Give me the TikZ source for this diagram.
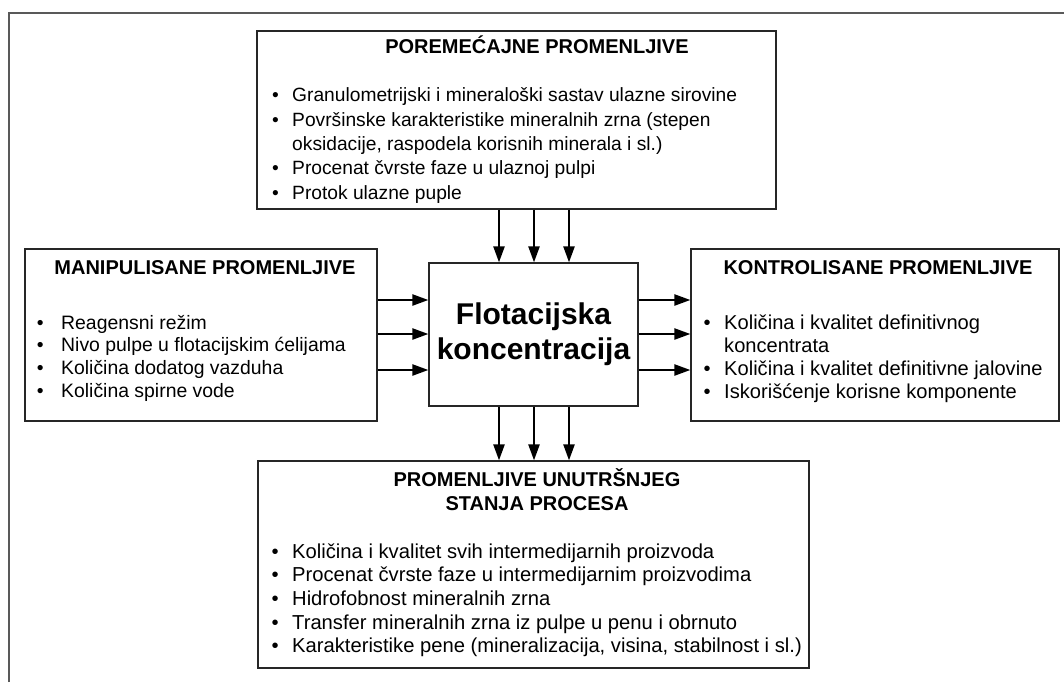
\documentclass[tikz,border=0pt]{standalone}
\usepackage{fontspec}
\setmainfont{Liberation Sans}
\usetikzlibrary{arrows.meta}
\tikzset{
  box/.style={draw=black!85, line width=1.2pt, fill=white, inner sep=0pt},
  naslov/.style={anchor=base, inner sep=0pt, font=\fontsize{20}{24}\selectfont\bfseries},
  stavke/.style={anchor=base west, inner sep=0pt},
  strelica/.style={line width=2.3pt, -{Triangle[length=16pt,width=11pt]}},
  okvir/.style={draw=black!65, line width=1.3pt}
}
\newcommand{\stavka}{\textbullet}

\begin{document}
\begin{tikzpicture}[x=1pt, y=-1pt]
\useasboundingbox (0,0) rectangle (1064,682);
%outer frame
\draw[okvir] (9,682) -- (9,13) -- (1064,13);

%the boxes
\node[box, minimum width=519pt, minimum height=178pt] (poremecajne) at (516.5,120) {};
\node[box, minimum width=352pt, minimum height=172pt] (manipulisane) at (201,335) {};
\node[box, minimum width=368pt, minimum height=172pt] (kontrolisane) at (875,335) {};
\node[box, minimum width=551pt, minimum height=207pt] (unutrasnje) at (533.5,564.5) {};
\node[box, minimum width=209pt, minimum height=143pt, align=center,
  font=\fontsize{30}{35}\selectfont\bfseries] (flotacija) at (533.5,334.5) {Flotacijska\\koncentracija};

%the titles
\node[naslov] (poremecajnenaslov) at (537,54) {POREMEĆAJNE PROMENLJIVE};
\node[naslov] (manipulisanenaslov) at (205,274) {MANIPULISANE PROMENLJIVE};
\node[naslov] (kontrolisanenaslov) at (878,274) {KONTROLISANE PROMENLJIVE};
\node[naslov] (unutrasnjenaslov) at (537,486) {\begin{tabular}[t]{@{}c@{}}PROMENLJIVE UNUTRŠNJEG\\STANJA PROCESA\end{tabular}};

%the lists
\node[stavke, font=\fontsize{19.2}{24.25}\selectfont] (poremecajnelista) at (272,102) {%
\begin{tabular}[t]{@{}l@{\hspace{13.3pt}}l@{}}
\stavka & Granulometrijski i mineraloški sastav ulazne sirovine\\
\stavka & Površinske karakteristike mineralnih zrna (stepen\\
        & oksidacije, raspodela korisnih minerala i sl.)\\
\stavka & Procenat čvrste faze u ulaznoj pulpi\\
\stavka & Protok ulazne puple
\end{tabular}};
\node[stavke, font=\fontsize{19.4}{22.7}\selectfont] (manipulisanelista) at (36.6,329) {%
\begin{tabular}[t]{@{}l@{\hspace{17.6pt}}l@{}}
\stavka & Reagensni režim\\
\stavka & Nivo pulpe u flotacijskim ćelijama\\
\stavka & Količina dodatog vazduha\\
\stavka & Količina spirne vode
\end{tabular}};
\node[stavke, font=\fontsize{20.1}{23.3}\selectfont] (kontrolisanelista) at (703.5,329) {%
\begin{tabular}[t]{@{}l@{\hspace{13.5pt}}l@{}}
\stavka & Količina i kvalitet definitivnog\\
        & koncentrata\\
\stavka & Količina i kvalitet definitivne jalovine\\
\stavka & Iskorišćenje korisne komponente
\end{tabular}};
\node[stavke, font=\fontsize{20.2}{23.7}\selectfont] (unutrasnjelista) at (271.5,558) {%
\begin{tabular}[t]{@{}l@{\hspace{13.4pt}}l@{}}
\stavka & Količina i kvalitet svih intermedijarnih proizvoda\\
\stavka & Procenat čvrste faze u intermedijarnim proizvodima\\
\stavka & Hidrofobnost mineralnih zrna\\
\stavka & Transfer mineralnih zrna iz pulpe u penu i obrnuto\\
\stavka & Karakteristike pene (mineralizacija, visina, stabilnost i sl.)
\end{tabular}};

%the arrows
\foreach \px in {499,534,569}{
  \draw[strelica] (poremecajne.south -| \px,0) -- (flotacija.north -| \px,0);
  \draw[strelica] (flotacija.south -| \px,0) -- (unutrasnje.north -| \px,0);
}
\foreach \py in {300,334,370}{
  \draw[strelica] (manipulisane.east |- 0,\py) -- (flotacija.west |- 0,\py);
  \draw[strelica] (flotacija.east |- 0,\py) -- (kontrolisane.west |- 0,\py);
}
\end{tikzpicture}
\end{document}
